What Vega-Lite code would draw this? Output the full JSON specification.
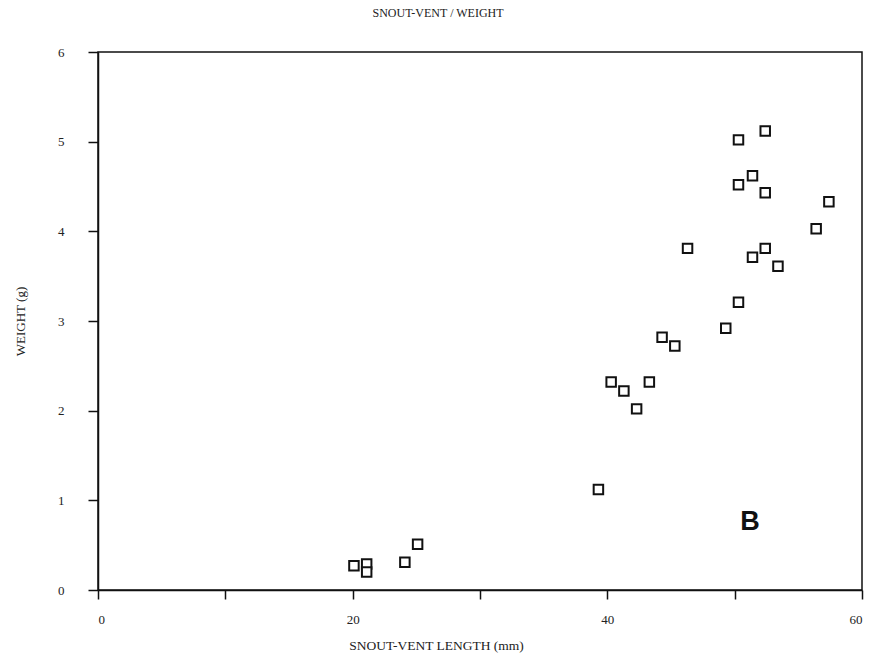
{
  "$schema": "https://vega.github.io/schema/vega-lite/v6.json",
  "width": 764,
  "height": 538,
  "autosize": "none",
  "padding": {"left": 98, "top": 52, "right": 14, "bottom": 76},
  "background": "white",
  "title": {"text": "SNOUT-VENT / WEIGHT", "font": "Liberation Serif", "fontSize": 12, "fontWeight": "normal", "color": "#222", "offset": 26, "anchor": "middle", "dx": -42},
  "config": {
    "view": {"stroke": "#111", "strokeWidth": 1.5},
    "axis": {"grid": false, "labelFont": "Liberation Serif", "titleFont": "Liberation Serif", "labelFontSize": 13, "titleFontSize": 13, "titleFontWeight": "normal", "labelColor": "#222", "titleColor": "#222", "domainColor": "#111", "tickColor": "#111", "domainWidth": 1.5, "tickWidth": 1.5}
  },
  "layer": [
    {
      "data": {"values": [
        {"svl": 20.1, "weight": 0.27},
        {"svl": 21.1, "weight": 0.29},
        {"svl": 21.1, "weight": 0.2},
        {"svl": 24.1, "weight": 0.31},
        {"svl": 25.1, "weight": 0.51},
        {"svl": 39.3, "weight": 1.12},
        {"svl": 40.3, "weight": 2.32},
        {"svl": 41.3, "weight": 2.22},
        {"svl": 42.3, "weight": 2.02},
        {"svl": 43.3, "weight": 2.32},
        {"svl": 44.3, "weight": 2.82},
        {"svl": 45.3, "weight": 2.72},
        {"svl": 46.3, "weight": 3.81},
        {"svl": 49.3, "weight": 2.92},
        {"svl": 50.3, "weight": 3.21},
        {"svl": 50.3, "weight": 5.02},
        {"svl": 50.3, "weight": 4.52},
        {"svl": 51.4, "weight": 4.62},
        {"svl": 51.4, "weight": 3.71},
        {"svl": 52.4, "weight": 5.12},
        {"svl": 52.4, "weight": 4.43},
        {"svl": 52.4, "weight": 3.81},
        {"svl": 53.4, "weight": 3.61},
        {"svl": 56.4, "weight": 4.03},
        {"svl": 57.4, "weight": 4.33}
      ]},
      "mark": {"type": "point", "shape": "square", "size": 90, "filled": false, "stroke": "#111", "strokeWidth": 2, "fill": "white", "fillOpacity": 1},
      "encoding": {
        "x": {"field": "svl", "type": "quantitative", "scale": {"domain": [0, 60], "nice": false, "zero": false},
          "axis": {"title": "SNOUT-VENT LENGTH (mm)", "titleFontSize": 13.5, "values": [0, 10, 20, 30, 40, 50, 60], "labelExpr": "datum.value % 20 == 0 ? datum.label : ''", "tickSize": 9, "labelPadding": 14, "titleX": 338, "titlePadding": 12}},
        "y": {"field": "weight", "type": "quantitative", "scale": {"domain": [0, 6], "nice": false},
          "axis": {"title": "WEIGHT (g)", "values": [0, 1, 2, 3, 4, 5, 6], "format": "d", "tickSize": 10, "labelPadding": 24, "titlePadding": 30}}
      }
    },
    {
      "data": {"values": [{"svl": 51.2, "weight": 0.76, "label": "B"}]},
      "mark": {"type": "text", "font": "Liberation Sans", "fontSize": 27, "fontWeight": "bold", "color": "#111", "baseline": "middle", "align": "center"},
      "encoding": {
        "x": {"field": "svl", "type": "quantitative"},
        "y": {"field": "weight", "type": "quantitative"},
        "text": {"field": "label"}
      }
    }
  ]
}
